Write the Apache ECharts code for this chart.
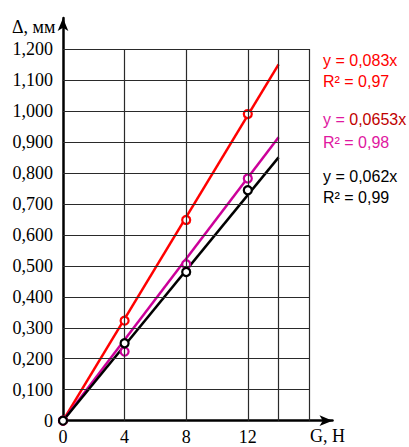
<!DOCTYPE html>
<html>
<head>
<meta charset="utf-8">
<script src="https://cdn.jsdelivr.net/npm/echarts@6/dist/echarts.min.js"></script>
<style>
html,body{margin:0;padding:0;background:#fff;}
#chart{width:409px;height:447px;}
</style>
</head>
<body>
<div id="chart"></div>
<script>
// Data
const xValues = [0, 4, 8, 12];
const redValues = [0, 0.323, 0.648, 0.99];
const magentaValues = [0, 0.223, 0.505, 0.782];
const blackValues = [0, 0.25, 0.48, 0.744];
const fitX = [0, 14];
const redFit = [0, 1.15];
const magentaFit = [0, 0.915];
const blackFit = [0, 0.85];
const xTickLabels = ['0', '4', '8', '12'];
const hGridValues = [0.1, 0.2, 0.3, 0.4, 0.5, 0.6, 0.7, 0.8, 0.9, 1.0, 1.1, 1.2];
const vGridValues = [4, 8, 12, 14, 16];
const redEq = ['y = 0,083x', 'R² = 0,97'];
const magentaEq = ['y = ', '0,0653x', 'R² = 0,98'];
const blackEq = ['y = 0,062x', 'R² = 0,99'];
const xName = 'G, H';
const yName = 'Δ, мм';

const pairs = (xs, ys) => xs.map((x, i) => [x, ys[i]]);
const gridTop = 1.2, gridRight = 16;

const serif = '"Liberation Serif", "Times New Roman", serif';
const sans = '"Liberation Sans", Arial, sans-serif';

const measureCtx = document.createElement('canvas').getContext('2d');
measureCtx.font = '16px ' + sans;
const eqPrefixWidth = measureCtx.measureText(magentaEq[0]).width;

const gridLines = [];
hGridValues.forEach(v => gridLines.push([{coord: [0, v]}, {coord: [gridRight, v]}]));
vGridValues.forEach(v => gridLines.push([{coord: [v, 0]}, {coord: [v, gridTop]}]));

function fitSeries(ys, color, z) {
  return {type: 'line', data: pairs(fitX, ys), showSymbol: false, symbol: 'none',
    lineStyle: {color: color, width: 2.5}, z: z, silent: true, animation: false};
}
function ptSeries(ys, color, z) {
  return {type: 'scatter', data: pairs(xValues, ys), symbol: 'circle', symbolSize: 8,
    itemStyle: {color: '#fff', borderColor: color, borderWidth: 2.2, opacity: 1},
    z: z, silent: true, animation: false};
}

const chart = echarts.init(document.getElementById('chart'), null, {renderer: 'svg'});
chart.setOption({
  animation: false,
  backgroundColor: '#fff',
  grid: {left: 63, bottom: 26.3, top: 18, right: 76.5, containLabel: false},
  xAxis: {
    type: 'value', min: 0, max: 17.5, interval: 4,
    axisLine: {show: true, onZero: false, symbol: ['none', 'arrow'], symbolSize: [8, 13],
      lineStyle: {color: '#000', width: 2.5}},
    axisTick: {show: false},
    splitLine: {show: false},
    axisLabel: {margin: 7, color: '#000', fontFamily: serif, fontSize: 18,
      formatter: v => { const i = xValues.indexOf(v); return i >= 0 ? xTickLabels[i] : ''; }}
  },
  yAxis: {
    type: 'value', min: 0, max: 1.3, interval: 0.1,
    axisLine: {show: true, onZero: false, symbol: ['none', 'arrow'], symbolSize: [8, 13],
      lineStyle: {color: '#000', width: 2.5}},
    axisTick: {show: false},
    splitLine: {show: false},
    axisLabel: {margin: 10, color: '#000', fontFamily: serif, fontSize: 18,
      formatter: v => v > 1.2001 ? '' : (v === 0 ? '0' : v.toFixed(3).replace('.', ','))}
  },
  series: [
    {type: 'line', data: [], z: 1, silent: true,
      markLine: {silent: true, symbol: ['none', 'none'], label: {show: false},
        lineStyle: {color: '#2a2a2a', width: 1.2, type: 'solid'}, data: gridLines, animation: false}},
    fitSeries(redFit, '#ff0000', 3),
    fitSeries(magentaFit, '#cc0099', 3),
    fitSeries(blackFit, '#000000', 3),
    ptSeries(redValues, '#ff0000', 4),
    ptSeries(magentaValues, '#cc0099', 4),
    ptSeries(blackValues, '#000000', 5)
  ],
  graphic: [
    {type: 'text', left: 12, top: 18, style: {text: yName, font: '18px ' + serif, fill: '#000'}},
    {type: 'text', left: 310, top: 427, style: {text: xName, font: '18px ' + serif, fill: '#000'}},
    {type: 'text', left: 323, top: 52, style: {text: redEq[0], font: '16px ' + sans, fill: '#ff0000'}},
    {type: 'text', left: 323, top: 73, style: {text: redEq[1], font: '16px ' + sans, fill: '#ff0000'}},
    {type: 'text', left: 323, top: 111, style: {text: magentaEq[0], font: '16px ' + sans, fill: '#e0189f'}},
    {type: 'text', left: 323 + eqPrefixWidth, top: 111, style: {text: magentaEq[1], font: '16px ' + sans, fill: '#c00000'}},
    {type: 'text', left: 323, top: 134, style: {text: magentaEq[2], font: '16px ' + sans, fill: '#e0189f'}},
    {type: 'text', left: 323, top: 168, style: {text: blackEq[0], font: '16px ' + sans, fill: '#000'}},
    {type: 'text', left: 323, top: 189, style: {text: blackEq[1], font: '16px ' + sans, fill: '#000'}}
  ]
});
</script>
</body>
</html>
